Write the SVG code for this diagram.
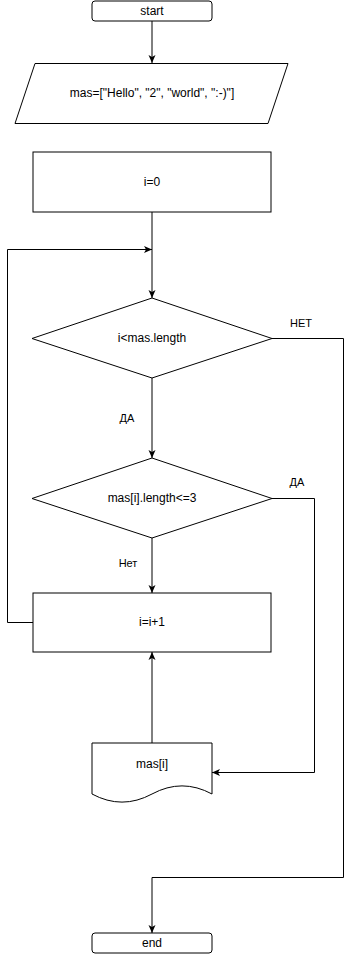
<svg xmlns="http://www.w3.org/2000/svg" width="353" height="954" viewBox="0 0 353 954">
  <style>
    .shape { fill: #ffffff; stroke: #000000; stroke-width: 1; }
    .edge { fill: none; stroke: #000000; stroke-width: 1; }
    .lbl { font-family: "Liberation Sans", Arial, sans-serif; font-size: 12px; fill: #000000; text-anchor: middle; dominant-baseline: central; }
    .elbl { font-family: "Liberation Sans", Arial, sans-serif; font-size: 11px; fill: #000000; text-anchor: middle; dominant-baseline: central; }
  </style>
  <defs>
    <marker id="arrow" viewBox="0 0 8 8" refX="8" refY="4" markerWidth="8" markerHeight="8" markerUnits="userSpaceOnUse" orient="auto">
      <path d="M0,0.5 L8,4 L0,7.5 L2,4 Z" fill="#000000"/>
    </marker>
  </defs>
  <rect width="353" height="954" fill="#ffffff"/>

  <!-- connectors -->
  <g id="connectors">
    <path class="edge" d="M152,21 V63" marker-end="url(#arrow)"/>
    <path class="edge" d="M152,212 V298" marker-end="url(#arrow)"/>
    <path class="edge" d="M33,622.5 H7.5 V249.5 H152" marker-end="url(#arrow)"/>
    <path class="edge" d="M152,378 V458" marker-end="url(#arrow)"/>
    <path class="edge" d="M152,538 V593" marker-end="url(#arrow)"/>
    <path class="edge" d="M152,743 V652" marker-end="url(#arrow)"/>
    <path class="edge" d="M272,498.5 H314.5 V772.5 H212" marker-end="url(#arrow)"/>
    <path class="edge" d="M272,338.5 H343.5 V877.5 H152 V933" marker-end="url(#arrow)"/>
    <text class="elbl" x="301" y="323">НЕТ</text>
    <text class="elbl" x="127" y="418">ДА</text>
    <text class="elbl" x="297" y="482">ДА</text>
    <text class="elbl" x="128" y="563">Нет</text>
  </g>

  <g id="start">
    <rect class="shape" x="92" y="1" width="120" height="20" rx="3" ry="3"/>
    <text class="lbl" x="152" y="11">start</text>
  </g>

  <g id="input">
    <polygon class="shape" points="35,63.5 288,63.5 268,123.5 15,123.5"/>
    <text class="lbl" x="152" y="93">mas=["Hello", "2", "world", ":-)"]</text>
  </g>

  <g id="init">
    <rect class="shape" x="33" y="152" width="238" height="60"/>
    <text class="lbl" x="152" y="182">i=0</text>
  </g>

  <g id="cond-loop">
    <polygon class="shape" points="152,298 272,338.5 152,378 32,338.5"/>
    <text class="lbl" x="152" y="338">i&lt;mas.length</text>
  </g>

  <g id="cond-length">
    <polygon class="shape" points="152,458 272,498.5 152,538 32,498.5"/>
    <text class="lbl" x="152" y="498">mas[i].length&lt;=3</text>
  </g>

  <g id="increment">
    <rect class="shape" x="33" y="593" width="238" height="59"/>
    <text class="lbl" x="152" y="622">i=i+1</text>
  </g>

  <g id="output">
    <path class="shape" d="M92,743 H212 V794 Q182,777.8 152,794 Q122,810.2 92,794 Z"/>
    <text class="lbl" x="152" y="764">mas[i]</text>
  </g>

  <g id="end">
    <rect class="shape" x="92" y="933" width="120" height="20" rx="3" ry="3"/>
    <text class="lbl" x="152" y="943">end</text>
  </g>
</svg>
